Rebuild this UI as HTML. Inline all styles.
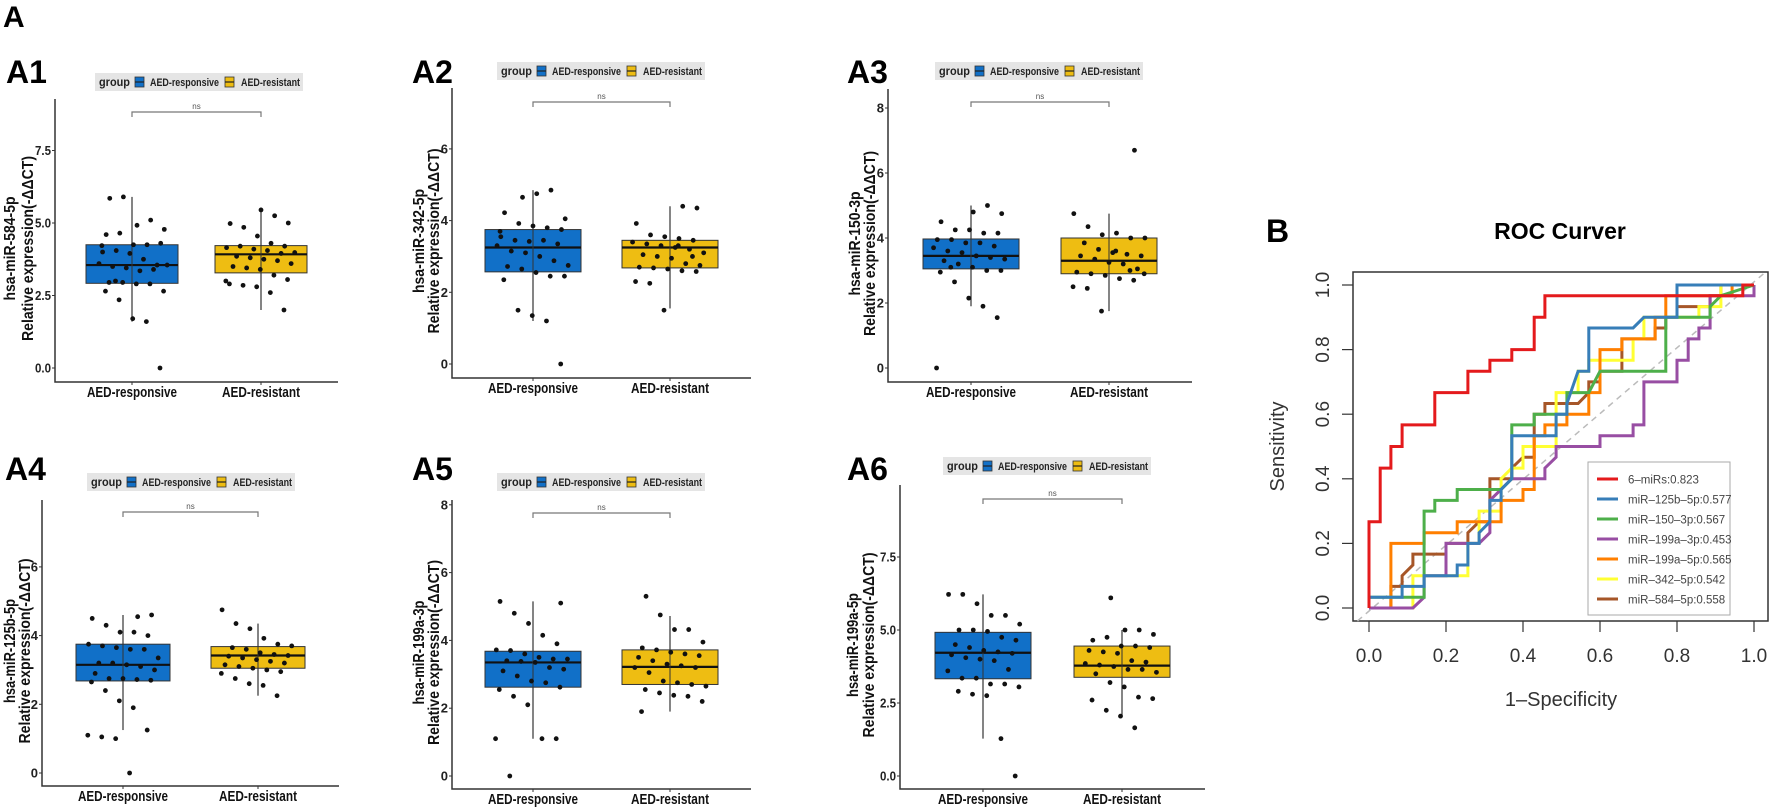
<!DOCTYPE html>
<html><head><meta charset="utf-8"><style>
html,body{margin:0;padding:0;background:#fff;}
svg{display:block;font-family:"Liberation Sans",Arial,sans-serif;}
</style></head><body>
<svg id="fig" width="1772" height="807" viewBox="0 0 1772 807" xmlns="http://www.w3.org/2000/svg">
<text x="3" y="27" font-size="30" font-weight="bold">A</text>
<g id="boxes"></g>
<g id="roc"></g>
</svg>
<script>
// ---------- Box plot data ----------
const panelNames = ["A1","A2","A3","A4","A5","A6"];
const yTitles = ["hsa-miR-584-5p","hsa-miR-342-5p","hsa-miR-150-3p","hsa-miR-125b-5p","hsa-miR-199a-3p","hsa-miR-199a-5p"];
const groups = ["AED-responsive","AED-resistant"];
const tickValues = [[0,2.5,5,7.5],[0,2,4,6],[0,2,4,6,8],[0,2,4,6],[0,2,4,6,8],[0,2.5,5,7.5]];
// stats: [whiskerLow, q1, median, q3, whiskerHigh]
const statsResp = [[1.6,2.92,3.55,4.25,5.9],[1.2,2.57,3.25,3.75,4.85],[1.9,3.05,3.45,3.97,5.0],[1.25,2.68,3.15,3.75,4.6],[1.1,2.62,3.35,3.68,5.15],[1.28,3.33,4.22,4.92,6.22]];
const statsRes = [[2.0,3.28,3.92,4.22,5.45],[1.55,2.68,3.25,3.45,4.4],[1.75,2.9,3.3,4.0,4.75],[2.25,3.05,3.42,3.68,4.35],[1.9,2.7,3.22,3.72,4.72],[2.05,3.38,3.78,4.45,5.0]];
const ptsResp = [
[5.85,5.9,4.92,5.1,4.78,4.6,4.65,4.25,4.25,4.3,4.0,4.05,3.95,3.75,3.55,3.6,3.5,3.45,3.35,3.4,3.55,2.95,2.95,2.9,2.9,2.65,2.65,2.35,1.7,1.6,0.0,4.22,3.0],
[4.65,4.75,4.85,4.05,4.22,3.92,3.85,3.8,3.75,3.55,3.45,3.42,3.45,3.35,3.3,3.15,3.1,3.0,2.88,2.75,2.72,2.65,2.55,2.45,2.45,2.35,1.5,1.35,1.2,0.0,3.7],
[4.8,5.0,4.75,4.5,4.25,4.25,4.15,4.15,3.95,3.95,3.85,3.85,3.75,3.7,3.6,3.55,3.45,3.4,3.35,3.3,3.2,3.1,3.0,3.0,2.95,2.65,2.15,1.9,1.55,0.0,3.1],
[4.55,4.6,4.5,4.3,4.1,4.1,4.0,3.75,3.7,3.65,3.6,3.6,3.35,3.2,3.2,3.15,3.1,3.0,2.9,2.75,2.75,2.72,2.7,2.65,2.4,2.1,1.9,1.25,1.1,1.05,1.0,0.0],
[5.1,5.15,4.8,4.5,4.15,3.9,3.72,3.7,3.6,3.5,3.45,3.45,3.4,3.38,3.35,3.2,3.15,3.1,2.95,2.8,2.75,2.62,2.55,2.35,2.1,1.1,1.1,1.1,0.0],
[6.22,6.22,5.9,5.5,5.5,5.2,5.0,5.0,4.95,4.75,4.65,4.5,4.4,4.3,4.25,4.2,4.15,4.05,4.0,3.95,3.65,3.6,3.35,3.35,3.15,3.15,3.05,2.9,2.8,2.75,1.28,0.0]];
const ptsRes = [
[5.45,5.25,5.0,4.98,4.85,4.55,4.3,4.2,4.15,4.2,4.1,4.05,3.95,3.98,3.85,3.8,3.75,3.7,3.6,3.5,3.45,3.4,3.2,3.05,2.9,2.85,2.8,2.6,2.0,3.0],
[4.4,4.35,3.92,3.6,3.55,3.5,3.45,3.4,3.35,3.3,3.25,3.2,3.1,3.05,3.0,2.95,2.8,2.75,2.7,2.68,2.65,2.6,2.58,2.3,2.25,1.5,3.3,3.0],
[6.7,4.75,4.35,4.1,4.15,4.0,4.0,3.85,3.65,3.55,3.5,3.45,3.45,3.35,3.25,3.2,3.05,2.95,2.9,2.85,2.75,2.7,2.5,2.45,1.75,3.6,3.0,2.9],
[4.75,4.35,4.2,3.92,3.75,3.7,3.65,3.6,3.5,3.45,3.42,3.4,3.35,3.3,3.25,3.2,3.15,3.1,3.05,3.0,2.95,2.9,2.75,2.6,2.55,2.25],
[5.3,4.75,4.32,4.32,3.95,3.78,3.72,3.65,3.6,3.55,3.5,3.4,3.3,3.25,3.2,3.2,3.05,2.8,2.75,2.7,2.65,2.55,2.45,2.38,2.35,2.2,1.9],
[6.1,5.0,5.0,4.85,4.65,4.75,4.45,4.45,4.4,4.3,4.25,4.2,3.95,3.9,3.85,3.8,3.75,3.65,3.65,3.55,3.5,3.2,3.05,2.7,2.65,2.6,2.25,2.05,1.65]];

// ---------- Layout (pixels) ----------
const layout = [
 {lx:6,ly:83,left:55,top:99,bottom:382,y0:368,ppu:29,c1:132,c2:261,hw:46,legX:95,legY:73,br:112,dec:1,t1:-40,t2:-22},
 {lx:412,ly:83,left:452,top:88,bottom:378,y0:364,ppu:35.85,c1:533,c2:670,hw:48,legX:497,legY:62,br:102,dec:0,t1:-28,t2:-13},
 {lx:847,ly:83,left:888,top:89,bottom:382,y0:368,ppu:32.5,c1:971,c2:1109,hw:48,legX:935,legY:62,br:102,dec:0,t1:-28,t2:-13},
 {lx:5,ly:480,left:42,top:500,bottom:786,y0:773,ppu:34.35,c1:123,c2:258,hw:47,legX:87,legY:473,br:512,dec:0,t1:-27,t2:-12},
 {lx:412,ly:480,left:452,top:500,bottom:789,y0:776,ppu:33.9,c1:533,c2:670,hw:48,legX:497,legY:473,br:513,dec:0,t1:-28,t2:-13},
 {lx:847,ly:480,left:900,top:485,bottom:789,y0:776,ppu:29.2,c1:983,c2:1122,hw:48,legX:943,legY:457,br:499,dec:1,t1:-42,t2:-26}];
const COLORS = ["#1170c8","#eebd12"];
const NS = "http://www.w3.org/2000/svg";
function mk(tag, attrs, parent, txt){
  const e = document.createElementNS(NS, tag);
  for (const k in attrs) e.setAttribute(k, attrs[k]);
  if (txt !== undefined) e.textContent = txt;
  parent.appendChild(e);
  return e;
}
const boxesG = document.getElementById('boxes');
panelNames.forEach((pn, p) => {
  const L = layout[p];
  const yS = v => L.y0 - v * L.ppu;
  const right = L.c2 + (L.c1 - L.left);
  const g = mk('g', {}, boxesG);
  
  
  const lab = mk('text', {x:L.lx, y:L.ly, 'font-size':32, 'font-weight':'bold'}, g, pn);
  
  
  // legend
  const lg = mk('g', {}, g);
  
  
  mk('rect', {x:L.legX, y:L.legY, width:208, height:18, fill:'#e5e5e5'}, lg);
  mk('text', {x:L.legX+4, y:L.legY+13, 'font-size':12, 'font-weight':'bold', fill:'#222', textLength:31, lengthAdjust:'spacingAndGlyphs'}, lg, 'group');
  [[40,55,69],[130,146,59]].forEach((o, k) => {
    const e = mk('g', {}, lg);
    
    
    mk('rect', {x:L.legX+o[0], y:L.legY+4, width:9, height:10, fill:COLORS[k], stroke:'#333', 'stroke-width':0.8}, e);
    mk('line', {x1:L.legX+o[0], x2:L.legX+o[0]+9, y1:L.legY+9, y2:L.legY+9, stroke:'#222', 'stroke-width':1.2}, e);
    mk('text', {x:L.legX+o[1], y:L.legY+13, 'font-size':11, 'font-weight':'bold', textLength:o[2], lengthAdjust:'spacingAndGlyphs', fill:'#222'}, e, groups[k]);
  });
  // axes
  const ax = mk('path', {d:`M${L.left},${L.top}V${L.bottom}H${right}`, fill:'none', stroke:'#333', 'stroke-width':1.5}, g);
  
  
  tickValues[p].forEach(t => {
    const y = yS(t);
    mk('line', {x1:L.left-3, x2:L.left, y1:y, y2:y, stroke:'#333', 'stroke-width':1}, g);
    const attrs = {x:L.left-4, y:y+4.5, 'font-size':13, 'font-weight':'bold', 'text-anchor':'end', fill:'#222'};
    if (L.dec) { attrs.textLength = 16; attrs.lengthAdjust = 'spacingAndGlyphs'; }
    const tl = mk('text', attrs, g, t.toFixed(L.dec));
    
    
  });
  // y title
  const cy = (L.top + L.bottom)/2 + 8;
  const t1 = mk('text', {x:0, y:0, transform:`translate(${L.left+L.t1},${cy}) rotate(-90)`, 'font-size':16, 'font-weight':'bold', 'text-anchor':'middle', fill:'#111', textLength:104, lengthAdjust:'spacingAndGlyphs'}, g, yTitles[p]);
  
  
  const t2 = mk('text', {x:0, y:0, transform:`translate(${L.left+L.t2},${cy}) rotate(-90)`, 'font-size':16, 'font-weight':'bold', 'text-anchor':'middle', fill:'#111', textLength:185, lengthAdjust:'spacingAndGlyphs'}, g, 'Relative expression(-ΔΔCT)');
  
  
  // boxes
  [[statsResp[p], ptsResp[p], L.c1], [statsRes[p], ptsRes[p], L.c2]].forEach((d, k) => {
    const s = d[0], cx = d[2];
    mk('line', {x1:cx, x2:cx, y1:L.bottom, y2:L.bottom+3, stroke:'#333'}, g);
    const xl = mk('text', {x:cx, y:L.bottom+15, 'font-size':15, 'font-weight':'bold', 'text-anchor':'middle', fill:'#111', textLength:k===0?90:78, lengthAdjust:'spacingAndGlyphs'}, g, groups[k]);
    
    
    const wl = mk('line', {x1:cx, x2:cx, y1:yS(s[0]), y2:yS(s[4]), stroke:'#333', 'stroke-width':1.2}, g);
    
    
    const bx = mk('rect', {x:cx-L.hw, y:yS(s[3]), width:2*L.hw, height:yS(s[1])-yS(s[3]), fill:COLORS[k], stroke:'#333', 'stroke-width':1}, g);
    
    
    mk('line', {x1:cx-L.hw, x2:cx+L.hw, y1:yS(s[2]), y2:yS(s[2]), stroke:'#111', 'stroke-width':2.2}, g);
    mk('line', {x1:cx, x2:cx, y1:yS(s[3]), y2:yS(s[1]), stroke:'#333', 'stroke-width':1}, g);
    d[1].forEach((v, i) => {
      const off = ((((i+1)*7919 + k*131 + p*17) % 100)/100 - 0.5) * 2 * L.hw * 0.78;
      const c = mk('circle', {cx:cx+off, cy:yS(v), r:2.4, fill:'#111'}, g);
      
      
    });
  });
  // bracket
  const br = mk('path', {d:`M${L.c1},${L.br+5}V${L.br}H${L.c2}V${L.br+5}`, fill:'none', stroke:'#777', 'stroke-width':1.2}, g);
  
  
  const ns = mk('text', {x:(L.c1+L.c2)/2, y:L.br-3, 'font-size':8, 'text-anchor':'middle', fill:'#555'}, g, 'ns');
  
  
});

// ---------- ROC data ----------
const rocLabels = ["6-miRs:0.823","miR-125b-5p:0.577","miR-150-3p:0.567","miR-199a-3p:0.453","miR-199a-5p:0.565","miR-342-5p:0.542","miR-584-5p:0.558"];
const rocColors = ["#e41a1c","#377eb8","#4daf4a","#984ea3","#ff7f00","#ffff33","#a65628"];
const xTicks = [0,0.2,0.4,0.6,0.8,1.0];
const yTicks = [0,0.2,0.4,0.6,0.8,1.0];
const roc6 = [[0,0],[0,0.267],[0.029,0.267],[0.029,0.433],[0.057,0.433],[0.057,0.5],[0.086,0.5],[0.086,0.567],[0.171,0.567],[0.171,0.667],[0.257,0.667],[0.257,0.733],[0.314,0.733],[0.314,0.767],[0.371,0.767],[0.371,0.8],[0.429,0.8],[0.429,0.9],[0.457,0.9],[0.457,0.967],[0.971,0.967],[0.971,1],[1,1]];
const roc125b = [[0,0],[0,0.033],[0.086,0.033],[0.086,0.067],[0.143,0.067],[0.143,0.1],[0.229,0.1],[0.229,0.133],[0.257,0.133],[0.257,0.2],[0.286,0.2],[0.286,0.233],[0.314,0.267],[0.314,0.333],[0.343,0.333],[0.343,0.367],[0.371,0.4],[0.371,0.533],[0.486,0.533],[0.486,0.6],[0.514,0.6],[0.514,0.633],[0.543,0.733],[0.571,0.733],[0.571,0.867],[0.686,0.867],[0.714,0.9],[0.8,0.9],[0.8,1],[1,1]];
const roc150 = [[0,0],[0,0.033],[0.143,0.033],[0.143,0.3],[0.171,0.3],[0.171,0.333],[0.229,0.333],[0.229,0.367],[0.343,0.367],[0.371,0.4],[0.371,0.567],[0.429,0.567],[0.429,0.6],[0.514,0.6],[0.514,0.667],[0.571,0.667],[0.6,0.733],[0.771,0.733],[0.771,0.9],[0.886,0.9],[0.886,0.933],[0.914,0.967],[1,1]];
const roc199a3 = [[0,0],[0.114,0],[0.143,0.033],[0.143,0.1],[0.2,0.1],[0.2,0.2],[0.286,0.2],[0.314,0.233],[0.314,0.333],[0.371,0.4],[0.457,0.4],[0.457,0.433],[0.486,0.467],[0.486,0.5],[0.6,0.5],[0.6,0.533],[0.686,0.533],[0.686,0.567],[0.714,0.567],[0.714,0.7],[0.8,0.7],[0.8,0.767],[0.829,0.767],[0.829,0.833],[0.857,0.833],[0.857,0.867],[0.886,0.867],[0.886,0.967],[1,0.967],[1,1]];
const roc199a5 = [[0,0],[0.057,0],[0.057,0.2],[0.143,0.2],[0.143,0.233],[0.229,0.233],[0.229,0.267],[0.343,0.267],[0.343,0.333],[0.4,0.333],[0.4,0.367],[0.429,0.367],[0.429,0.533],[0.457,0.533],[0.457,0.567],[0.514,0.567],[0.514,0.6],[0.571,0.6],[0.571,0.667],[0.6,0.667],[0.6,0.8],[0.657,0.8],[0.657,0.833],[0.743,0.833],[0.743,0.9],[0.771,0.9],[0.771,0.967],[0.943,0.967],[0.943,1],[1,1]];
const roc342 = [[0,0],[0.114,0],[0.114,0.1],[0.257,0.1],[0.257,0.2],[0.286,0.2],[0.286,0.3],[0.343,0.3],[0.343,0.4],[0.371,0.433],[0.4,0.433],[0.4,0.5],[0.486,0.5],[0.486,0.667],[0.543,0.667],[0.543,0.733],[0.571,0.733],[0.571,0.767],[0.686,0.767],[0.686,0.833],[0.714,0.833],[0.714,0.9],[0.857,0.9],[0.857,0.933],[0.914,0.933],[0.914,1],[1,1]];
const roc584 = [[0,0],[0.057,0],[0.057,0.067],[0.086,0.067],[0.086,0.1],[0.114,0.133],[0.114,0.167],[0.2,0.167],[0.2,0.2],[0.257,0.2],[0.257,0.233],[0.286,0.267],[0.314,0.267],[0.314,0.4],[0.371,0.4],[0.371,0.433],[0.4,0.467],[0.429,0.467],[0.429,0.6],[0.457,0.6],[0.457,0.633],[0.543,0.633],[0.571,0.667],[0.571,0.7],[0.6,0.7],[0.6,0.733],[0.657,0.733],[0.657,0.833],[0.743,0.833],[0.743,0.867],[0.771,0.867],[0.771,0.9],[0.8,0.9],[0.8,0.933],[0.886,0.933],[0.886,0.967],[0.914,0.967],[0.914,1],[1,1]];
const rocSeries = [roc6, roc125b, roc150, roc199a3, roc199a5, roc342, roc584];

const R = document.getElementById('roc');
const X0 = 1369, XW = 385, Y0 = 608, YH = 323;
const xS = v => X0 + v * XW;
const yR = v => Y0 - v * YH;
const bl = mk('text', {x:1266, y:242, 'font-size':32, 'font-weight':'bold'}, R, 'B');


const tt = mk('text', {x:1560, y:239, 'font-size':23, 'font-weight':'bold', 'text-anchor':'middle'}, R, 'ROC Curver');


const fr = mk('rect', {x:1353, y:272, width:415, height:349, fill:'none', stroke:'#333', 'stroke-width':1.5}, R);


const dg = mk('line', {x1:xS(-0.03), y1:yR(-0.04), x2:xS(1.03), y2:yR(1.04), stroke:'#bbb', 'stroke-width':1.5, 'stroke-dasharray':'6 5'}, R);


xTicks.forEach(t => {
  mk('line', {x1:xS(t), x2:xS(t), y1:621, y2:632, stroke:'#333', 'stroke-width':1.2}, R);
  const l = mk('text', {x:xS(t), y:662, 'font-size':19, 'text-anchor':'middle', fill:'#333'}, R, t.toFixed(1));
  
  
});
yTicks.forEach(t => {
  mk('line', {x1:1342, x2:1353, y1:yR(t), y2:yR(t), stroke:'#333', 'stroke-width':1.2}, R);
  const l = mk('text', {x:0, y:0, transform:`translate(${1329},${yR(t)}) rotate(-90)`, 'font-size':19, 'text-anchor':'middle', fill:'#333'}, R, t.toFixed(1));
  
  
});
const xt = mk('text', {x:1561, y:706, 'font-size':20, 'text-anchor':'middle', fill:'#333'}, R, '1\u2013Specificity');


const yt = mk('text', {x:0, y:0, transform:`translate(1284,${yR(0.5)}) rotate(-90)`, 'font-size':20, 'text-anchor':'middle', fill:'#333'}, R, 'Sensitivity');


for (let i = rocSeries.length - 1; i >= 0; i--) {
  const d = rocSeries[i].map((pt, j) => (j ? 'L' : 'M') + xS(pt[0]).toFixed(1) + ',' + yR(pt[1]).toFixed(1)).join('');
  const pth = mk('path', {d:d, fill:'none', stroke:rocColors[i], 'stroke-width':3, 'stroke-linejoin':'miter'}, R);
  
  
}
const lgR = mk('g', {}, R);


mk('rect', {x:1588, y:462, width:142, height:153, fill:'#fff', stroke:'#aaa', 'stroke-width':1}, lgR);
rocLabels.forEach((lbl, i) => {
  const y = 479 + i * 20;
  const e = mk('g', {}, lgR);
  
  
  mk('line', {x1:1597, x2:1618, y1:y, y2:y, stroke:rocColors[i], 'stroke-width':3}, e);
  mk('text', {x:1628, y:y+4.5, 'font-size':11.5, fill:'#444'}, e, lbl.replace(/-/g, '\u2013'));
});
</script>
</body></html>
